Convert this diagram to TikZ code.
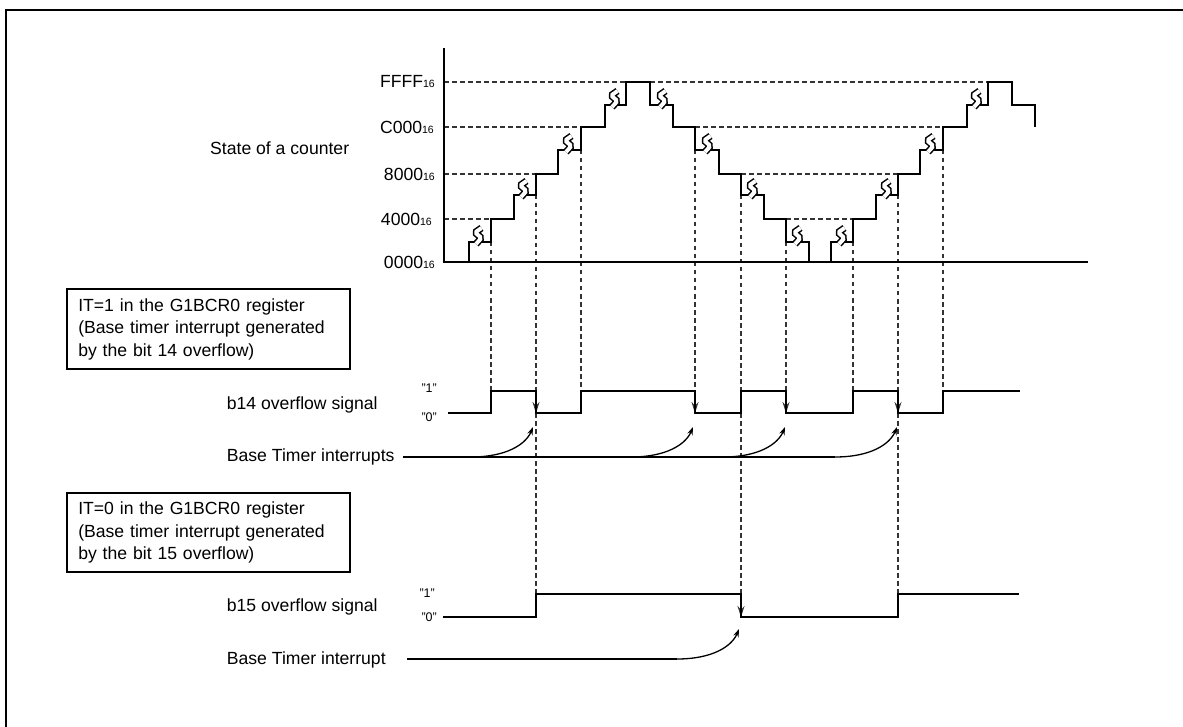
\documentclass[tikz,border=0pt]{standalone}
\usepackage{fontspec}
\setmainfont{Liberation Sans}
\usetikzlibrary{arrows.meta}
\newcommand{\hexval}[1]{#1{\fontsize{10.5}{10.5}\selectfont 16}}
\tikzset{
  lbl/.style={inner sep=0pt, font=\fontsize{17.6}{22.7}\selectfont},
  qlbl/.style={inner sep=0pt, font=\fontsize{12.5}{14}\selectfont, anchor=base east},
  itbox/.style={lbl, draw, line width=2pt, inner xsep=11.5pt, inner ysep=4pt, text width=260pt, align=left},
  guide/.style={dash pattern=on 4.5pt off 3.5pt, line width=1.1pt, black!80},
  guidearr/.style={guide, -{Stealth[length=11pt,width=7pt]}},
  counter/.style={line width=1.6pt},
  sig/.style={line width=1.8pt},
  irq/.style={line width=1.3pt},
  irqarr/.style={irq, -{Stealth[length=8pt,width=5.5pt]}},
  breakmark/.pic={\draw[line width=1.5pt, double=white, double distance=4pt, rounded corners=1.8pt] (3.5,-14) -- (-3,-9.5) -- (3.5,-4) -- (-2,2);}
}

\begin{document}
\begin{tikzpicture}[x=1pt,y=-1pt]
\useasboundingbox (0,0) rectangle (1183,727);
\draw[line width=2pt] (6,727) -- (6,10.3) -- (1183,10.3);

\node[lbl, anchor=base west] at (210,155) (cntlbl) {State of a counter};
\node[lbl, anchor=east] at (435,82) (lvlffff) {\hexval{FFFF}};
\node[lbl, anchor=east] at (434,127) (lvlc000) {\hexval{C000}};
\node[lbl, anchor=east] at (435,174) (lvl8000) {\hexval{8000}};
\node[lbl, anchor=east] at (432,219) (lvl4000) {\hexval{4000}};
\node[lbl, anchor=east] at (435,262) (lvl0000) {\hexval{0000}};

\draw[guide] (444,82) -- (626,82) (650,82) -- (988,82);
\draw[guide] (444,127) -- (581,127) (695,127) -- (943,127);
\draw[guide] (444,174) -- (536,174) (741,174) -- (898,174);
\draw[guide] (444,219) -- (491,219) (786,219) -- (853,219);

\draw[guide] (491,242) -- (491,391);
\draw[guidearr] (536,195) -- (536,413);
\draw[guide] (536,413) -- (536,594);
\draw[guide] (581,150) -- (581,391);
\draw[guidearr] (695,150) -- (695,413);
\draw[guide] (741,195) -- (741,391);
\draw[guidearr] (741,413) -- (741,617);
\draw[guidearr] (786,242) -- (786,413);
\draw[guide] (853,242) -- (853,391);
\draw[guidearr] (898,195) -- (898,413);
\draw[guide] (898,413) -- (898,594);
\draw[guide] (943,150) -- (943,391);

\draw[line width=2.2pt] (444,48) -- (444,262) -- (1088,262);
\draw[counter] (469,262) |- (491,242) |- (514,219) |- (536,195) |- (558,174) |- (581,150) |- (605,127) |- (626,105) |- (650,82)
  |- (673,105) |- (695,127) |- (719,150) |- (741,174) |- (764,195) |- (786,219) |- (809,242) -- (809,262);
\draw[counter] (831,262) |- (853,242) |- (876,219) |- (898,195) |- (920,174) |- (943,150) |- (967,127) |- (988,105) |- (1012,82)
  |- (1035,105) -- (1035,127);
\pic at (478,242) {breakmark};
\pic at (523,195) {breakmark};
\pic at (568,150) {breakmark};
\pic at (614,105) {breakmark};
\pic at (662,105) {breakmark};
\pic at (707,150) {breakmark};
\pic at (752,195) {breakmark};
\pic at (797,242) {breakmark};
\pic at (841,242) {breakmark};
\pic at (886,195) {breakmark};
\pic at (930,150) {breakmark};
\pic at (976,105) {breakmark};

\node[itbox, minimum height=80pt] at (208.3,329.3) (it1box) {IT=1 in the G1BCR0 register\\(Base timer interrupt generated\\by the bit 14 overflow)};
\node[lbl, anchor=base west] at (226.7,409.5) (b14lbl) {b14 overflow signal};
\node[qlbl] at (437,392.5) (b14one) {"1"};
\node[qlbl] at (437,421) (b14zero) {"0"};
\draw[sig] (448,413) -| (491,391) -| (536,413) -| (581,391) -| (695,413) -| (741,391) -| (786,413) -| (853,391) -| (898,413) -| (943,391) -- (1020,391);
\node[lbl, anchor=base west] at (226.7,461.3) (irq14lbl) {Base Timer interrupts};
\draw[irq] (403,457) -- (835,457);
\draw[irqarr] (471,457) .. controls (507,457) and (526,444) .. (533,427);
\draw[irqarr] (631,457) .. controls (667,457) and (686,444) .. (693,427);
\draw[irqarr] (723,457) .. controls (759,457) and (778,444) .. (785,427);
\draw[irqarr] (835,457) .. controls (871,457) and (890,444) .. (897,427);

\node[itbox, minimum height=78.5pt] at (208.3,532.5) (it0box) {IT=0 in the G1BCR0 register\\(Base timer interrupt generated\\by the bit 15 overflow)};
\node[lbl, anchor=base west] at (226.7,611) (b15lbl) {b15 overflow signal};
\node[qlbl] at (435,597) (b15one) {"1"};
\node[qlbl] at (437,621) (b15zero) {"0"};
\draw[sig] (443,617) -| (536,594) -| (741,617) -| (898,594) -- (1019,594);
\node[lbl, anchor=base west] at (226.7,664) (irq15lbl) {Base Timer interrupt};
\draw[irq] (407,659) -- (677,659);
\draw[irqarr] (677,659) .. controls (713,659) and (732,646) .. (739,629);
\end{tikzpicture}
\end{document}
